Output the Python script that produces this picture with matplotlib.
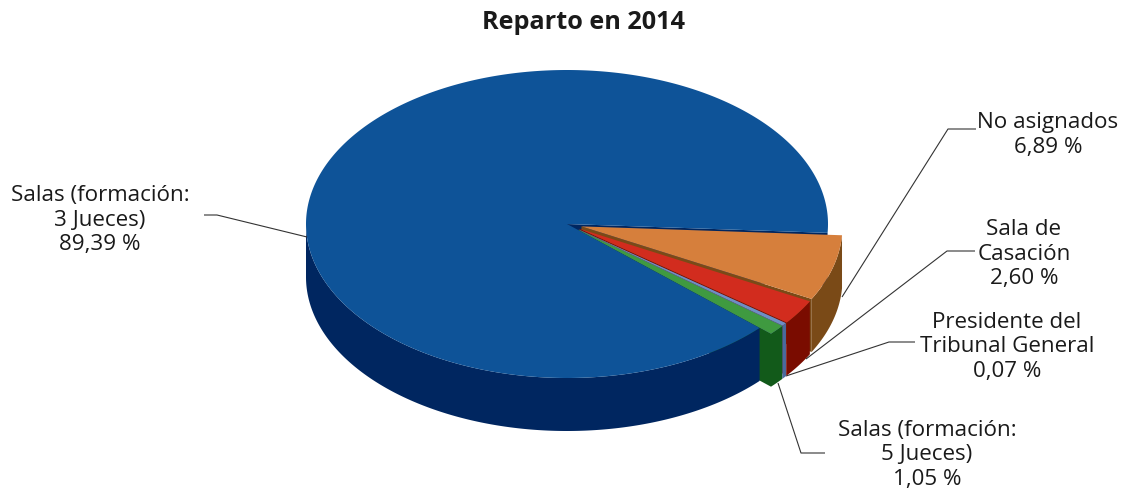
import numpy as np
import matplotlib
matplotlib.use('Agg')
import matplotlib.pyplot as plt

plt.rcParams['font.family'] = ['Open Sans', 'DejaVu Sans']

# clockwise from the right hand side of the pie
names = ['No asignados', 'Sala de\nCasación', 'Presidente del\nTribunal General',
         'Salas (formación:\n5 Jueces)', 'Salas (formación:\n3 Jueces)']
values = [6.89, 2.60, 0.07, 1.05, 89.39]
top_colors = ['#d67f3c', '#d22c1e', '#6d8fc5', '#3f9a40', '#0e5398']
side_colors = ['#7a4a17', '#7a0c00', '#4a6a9e', '#125a1a', '#002660']
explode = [15, 15, 15, 15, 0]

cx, cy = 567, 224
rx, ry = 261, 154
depth = 53
start = -3.3
min_span = 1.2  # degrees, keeps the tiny slice visible

label_pos = [(1048, 135), (1024, 254), (1007, 347), (927, 455), (100, 220)]
leaders = [[(976, 129), (948, 129), (842, 297)],
           [(975, 251), (947, 251), (806, 359)],
           [(915, 342), (889, 342), (786, 376)],
           [(825, 453), (801, 453), (778, 383)],
           [(204, 215), (217, 215), (307, 237)]]


def arc(c, a0, a1):
    t = np.radians(np.linspace(a0, a1, 400))
    return c[0] + rx*np.cos(t), c[1] - ry*np.sin(t)


def draw_side(ax, c, a0, a1, color):
    # only the part of the rim facing the viewer
    a0 = min(a0, 0)
    a1 = max(a1, -180)
    x, y = arc(c, a0, a1)
    ax.fill(np.r_[x, x[::-1]], np.r_[y, y[::-1] + depth], color=color, lw=0)


def draw_cut(ax, c, a, color):
    x, y = arc(c, a, a)
    px, py = [c[0], x[0], x[0], c[0]], [c[1], y[0], y[0] + depth, c[1] + depth]
    ax.fill(px, py, color=color, lw=0)


def draw_top(ax, c, a0, a1, color):
    x, y = arc(c, a0, a1)
    ax.fill(np.r_[c[0], x], np.r_[c[1], y], color=color, lw=0)


fig = plt.figure(figsize=(11.27, 4.91), dpi=100)
ax = fig.add_axes([0, 0, 1, 1])
ax.set_xlim(0, 1127)
ax.set_ylim(491, 0)
ax.axis('off')

spans = np.array(values)/sum(values)*360
extra = max(min_span - spans[2], 0)
spans[2] += extra
spans[4] -= extra
ends = start - np.cumsum(spans)
starts = ends + spans

centres = []
for a0, a1, e in zip(starts, ends, explode):
    mid = np.radians((a0 + a1)/2)
    centres.append((cx + e*np.cos(mid), cy - e*np.sin(mid)*ry/rx))

for pts in leaders:
    ax.plot(*zip(*pts), color='#333333', lw=0.8, solid_capstyle='butt')

# back to front: cut faces show only through the notch of the big slice
draw_cut(ax, centres[4], ends[4], side_colors[4])
for i in range(4):
    draw_cut(ax, centres[i], ends[i], side_colors[i])

draw_side(ax, centres[4], starts[4], ends[4], side_colors[4])
draw_top(ax, centres[4], starts[4], ends[4], top_colors[4])

for i in range(4):
    draw_side(ax, centres[i], starts[i], ends[i], side_colors[i])
    draw_top(ax, centres[i], starts[i], ends[i], top_colors[i])

for n, v, p in zip(names, values, label_pos):
    txt = n + '\n' + '{:.2f} %'.format(v).replace('.', ',')
    ax.text(p[0], p[1], txt, ha='center', va='center', fontsize=16.1,
            linespacing=1.22, color='#1a1a1a')

ax.text(583, 22, 'Reparto en 2014', ha='center', va='center', fontsize=18.2,
        fontweight='bold', color='#1a1a1a')

fig.savefig('out.png', dpi=100)
